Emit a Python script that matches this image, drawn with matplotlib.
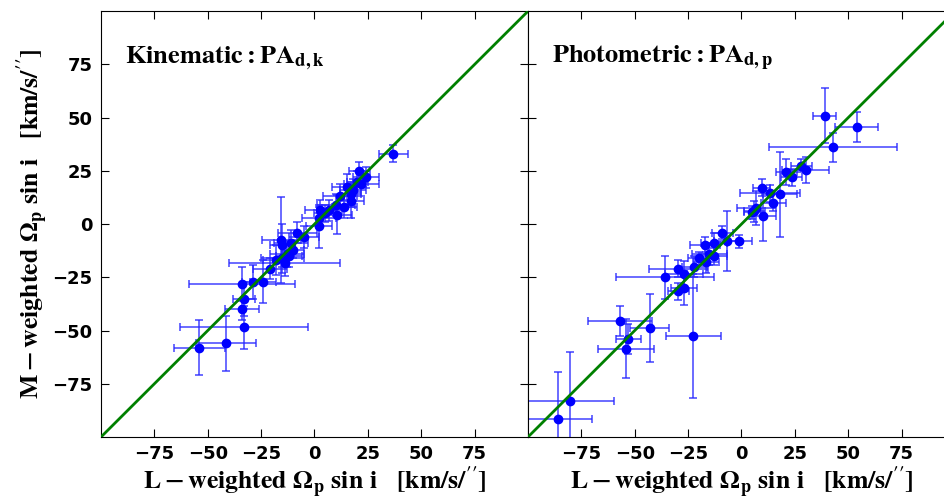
import matplotlib
matplotlib.use('Agg')
import matplotlib.pyplot as plt

plt.rcParams['mathtext.fontset'] = 'stix'
plt.rcParams['font.family'] = 'DejaVu Sans'
plt.rcParams['font.weight'] = 'bold'

# left panel: kinematic PA
kin_x = [37, 21, 24, 22, 18, 17, 17, 15, 20, 12, 10, 10.5, 7, 2.5, 2, 2, -5, -8, -11, -15.5,
         -15, -13, -15, -14, -21, -18, -24, -29, -34, -33, -34, -33, -41.5, -54, -10, -12, 5, 14]
kin_y = [33, 25, 22, 19, 16, 14, 11, 17.5, 20, 13, 9, 4.5, 6.5, 6.5, 3, -1, -6, -4, -9, -7.5,
         -10, -14, -16, -18.5, -21, -17, -27, -27, -28, -35, -40, -48.5, -56, -58, -12, -15, 5, 8]
kin_xerr = [7, 5, 6, 8, 6, 5, 6, 7, 5, 8, 9, 7, 6, 7, 8, 6, 7, 9, 8, 9,
            6, 8, 10, 26, 8, 6, 6, 5, 25, 5, 8, 30, 14, 12, 5, 6, 5, 6]
kin_yerr = [4, 4, 5, 6, 5, 6, 8, 6, 5, 6, 5, 9, 5, 5, 5, 10, 5, 5, 6, 20,
            10, 6, 7, 6, 5, 7, 10, 8, 8, 8, 5, 10, 13, 13, 4, 5, 4, 5]

# right panel: photometric PA
pho_x = [39, 54, 43, 18, 21, 30, 28, 23.5, 9.5, 13.5, 15, 7, 10, 6, -1, -9, -7, -13, -17,
         -15, -13, -16.5, -22, -27, -29.5, -36, -27, -29.5, -57, -43, -53, -54, -22.5,
         -80.5, -86, 5, -20]
pho_y = [51, 45.5, 36, 14, 24.5, 25.5, 27.5, 22, 17, 14.5, 10, 7.5, 4, 6, -8, -4, -8, -9, -10,
         -14, -15, -18, -20, -23.5, -21, -25, -30, -31.5, -45.5, -49, -54, -58.5, -52.5,
         -83, -91.5, 5.5, -16]
pho_xerr = [5.5, 10, 30, 8, 5, 11, 5, 5, 4, 14, 6, 9, 6, 5, 6, 5, 6, 6, 7,
            8, 6, 6, 6, 9, 14, 23, 6, 5, 15, 9, 6, 13, 13, 21, 16, 4, 5]
pho_yerr = [13, 7, 7, 20, 6, 6, 3, 4, 4, 4, 4, 8, 12, 5, 3, 3, 14, 5, 4,
            5, 4, 5, 5, 6, 4, 10, 8, 4, 7, 16, 7, 14, 29, 23, 22, 3, 3]

titles = [r'$\mathbf{Kinematic:PA_{d,k}}$', r'$\mathbf{Photometric:PA_{d,p}}$']
xlab = r'$\mathbf{L-weighted\ \Omega_p\ sin\ i\ \ \ [km/s/^{\prime\prime}]}$'
ylab = r'$\mathbf{M-weighted\ \Omega_p\ sin\ i\ \ \ [km/s/^{\prime\prime}]}$'
ticks = [-75, -50, -25, 0, 25, 50, 75]

fig = plt.figure(figsize=(9.44, 4.98), dpi=100)
ax1 = fig.add_axes([0.107, 0.1225, 0.4523, 0.855])
ax2 = fig.add_axes([0.5593, 0.1225, 0.4523, 0.855])

data = [(kin_x, kin_y, kin_xerr, kin_yerr), (pho_x, pho_y, pho_xerr, pho_yerr)]
for i, ax in enumerate([ax1, ax2]):
    x, y, xe, ye = data[i]
    ax.plot([-100, 100], [-100, 100], color='green', lw=2, zorder=3)
    ax.errorbar(x, y, xerr=xe, yerr=ye, fmt='o', color='blue', ms=6,
                ecolor=(0.15, 0.15, 1.0, 0.8), elinewidth=1.2, capsize=3, capthick=1.2, zorder=2)
    ax.set_xlim(-100, 100)
    ax.set_ylim(-100, 100)
    ax.set_xticks(ticks)
    ax.set_yticks(ticks)
    ax.tick_params(direction='in', top=True, right=True, length=6, labelsize=13, pad=6)
    for t in ax.get_xticklabels() + ax.get_yticklabels():
        t.set_fontweight('bold')
    ax.text(0.056, 0.89, titles[i], transform=ax.transAxes, fontsize=19, va='center')
    ax.set_xlabel(xlab, fontsize=18.5, labelpad=1)

ax1.set_ylabel(ylab, fontsize=18.5, labelpad=2)
ax2.set_yticklabels([])

fig.savefig('out.png', dpi=100)
